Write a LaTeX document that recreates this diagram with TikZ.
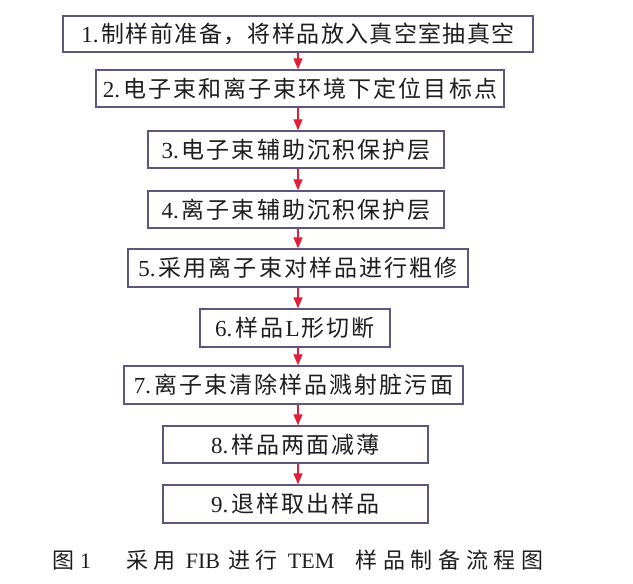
\documentclass[tikz,border=0pt]{standalone}
\usepackage{fontspec}
\setmainfont{Liberation Serif}
\newfontfamily\cjk[LetterSpace=9]{Noto Sans CJK SC}
\newfontfamily\cjktight[LetterSpace=6]{Noto Sans CJK SC}
\newfontfamily\cjkcap[LetterSpace=26]{Noto Sans CJK SC}
\usetikzlibrary{arrows.meta}
\definecolor{boxline}{RGB}{95,85,125}
\definecolor{arrred}{RGB}{225,30,55}
\definecolor{txt}{RGB}{30,30,30}
\tikzset{
  stepbox/.style={draw=boxline, line width=1.4pt, inner sep=0pt, text=txt,
    font=\fontsize{23}{26}\selectfont, anchor=center},
  flowarr/.style={draw=arrred, line width=1.1pt,
    -{Triangle[length=11pt,width=9pt]}, arrred},
  captext/.style={text=txt, font=\fontsize{22}{25}\selectfont, inner sep=0pt, anchor=west}
}
\newcommand{\dotgap}{\hspace{3pt}}
\begin{document}
\begin{tikzpicture}[x=1pt,y=-1pt]
\useasboundingbox[fill=white] (0,0) rectangle (633,584);
\node[stepbox, minimum width=470pt, minimum height=36pt] (b1) at (298,34) {1.\dotgap{\cjktight 制样前准备，将样品放入真空室抽真空}};
\node[stepbox, minimum width=408pt, minimum height=37pt] (b2) at (300,88.5) {2.\dotgap{\cjk 电子束和离子束环境下定位目标点}};
\node[stepbox, minimum width=296pt, minimum height=37pt] (b3) at (296,149.5) {3.\dotgap{\cjk 电子束辅助沉积保护层}};
\node[stepbox, minimum width=296pt, minimum height=37pt] (b4) at (296,209.5) {4.\dotgap{\cjk 离子束辅助沉积保护层}};
\node[stepbox, minimum width=340pt, minimum height=38pt] (b5) at (298,268) {5.\dotgap{\cjk 采用离子束对样品进行粗修}};
\node[stepbox, minimum width=190pt, minimum height=38pt] (b6) at (295,328) {6.\dotgap{\cjk 样品}\hspace{2pt}L\hspace{2pt}{\cjk 形切断}};
\node[stepbox, minimum width=339pt, minimum height=38pt] (b7) at (293.5,385) {7.\dotgap{\cjk 离子束清除样品溅射脏污面}};
\node[stepbox, minimum width=265pt, minimum height=37pt] (b8) at (295.5,444.5) {8.\dotgap{\cjk 样品两面减薄}};
\node[stepbox, minimum width=265pt, minimum height=38pt] (b9) at (295.5,504) {9.\dotgap{\cjk 退样取出样品}};
\coordinate (ax) at (298,0);
\foreach \a/\b in {b1/b2,b2/b3,b3/b4,b4/b5,b5/b6,b6/b7,b7/b8,b8/b9}{
  \draw[flowarr] (\a.south -| ax) -- (\b.north -| ax);
}
\node[captext] (cap) at (52,560) {{\cjkcap 图}\hspace{6pt}1\hspace{35pt}{\cjkcap 采用}\hspace{10pt}FIB\hspace{8pt}{\cjkcap 进行}\hspace{10pt}TEM\hspace{21pt}{\cjkcap 样品制备流程图}};
\end{tikzpicture}
\end{document}
